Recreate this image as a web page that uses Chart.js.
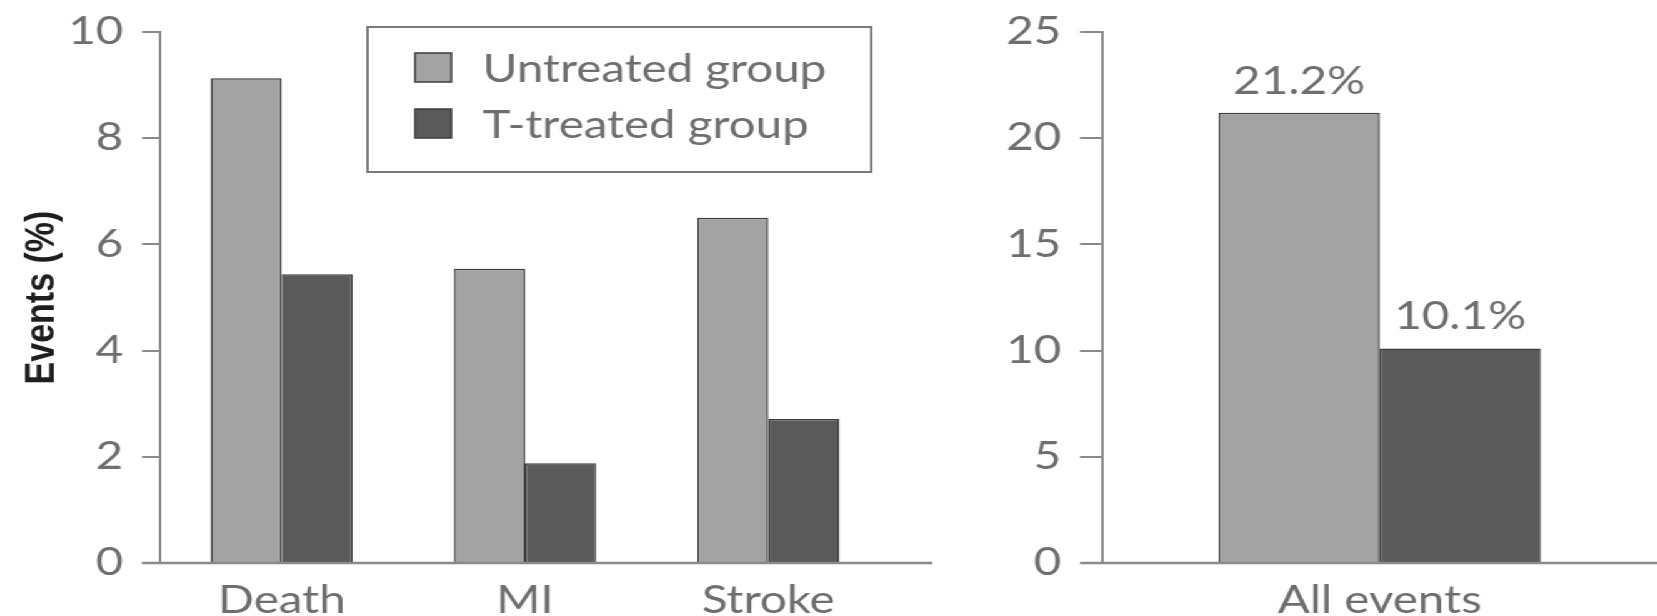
<!DOCTYPE html>
<html>
<head>
<meta charset="utf-8">
<script src="https://cdn.jsdelivr.net/npm/chart.js@4.4.0/dist/chart.umd.min.js"></script>
<style>
html, body { margin: 0; padding: 0; background: #fff; overflow: hidden; }
/* the source figure is stretched sideways, so the whole drawing is too */
#wrap { width: 1326px; height: 616px; display: flex; transform: scaleX(1.25); transform-origin: 0 0; }
canvas { display: block; }
</style>
</head>
<body>
<div id="wrap">
  <canvas id="chart1" width="760" height="616"></canvas>
  <canvas id="chart2" width="566" height="616"></canvas>
</div>
<script>
// values (events, %)
const categories = ['Death', 'MI', 'Stroke'];
const untreated = [9.13, 5.54, 6.5];
const treated = [5.44, 1.88, 2.71];

const allCategories = ['All events'];
const allUntreated = [21.2];
const allTreated = [10.1];

const seriesNames = ['Untreated group', 'T-treated group'];
const leftTicks = [0, 2, 4, 6, 8, 10];
const rightTicks = [0, 5, 10, 15, 20, 25];

const lightGrey = '#a3a3a3';
const darkGrey = '#5a5a5a';
const edge = '#3c3c3c';
const axisGrey = '#8a8a8a';
const textGrey = '#6e6e6e';
const labelFont = { family: 'Lato', size: 38, weight: 'normal' };

document.addEventListener("DOMContentLoaded", function() {

    // zero line that runs a bit past the plot, like in the figure
    const baseline = {
        id: 'baseline',
        afterDatasetsDraw(chart, args, opts) {
            const ctx = chart.ctx;
            const a = chart.chartArea;
            const y = chart.scales.y.getPixelForValue(0);
            const right = opts.toEdge ? chart.width : a.right + opts.after;
            ctx.save();
            ctx.strokeStyle = axisGrey;
            ctx.lineWidth = 2.5;
            ctx.beginPath();
            ctx.moveTo(a.left - opts.before, y);
            ctx.lineTo(right, y);
            ctx.stroke();
            ctx.restore();
        }
    };

    // boxed legend sitting inside the plot
    const legendBox = {
        id: 'legendBox',
        afterDraw(chart) {
            const ctx = chart.ctx;
            const x0 = chart.chartArea.left + 166;
            const y0 = 27;
            ctx.save();
            ctx.strokeStyle = '#7a7a7a';
            ctx.lineWidth = 2;
            ctx.strokeRect(x0, y0, 403, 145);
            chart.data.datasets.forEach(function(ds, i) {
                const bottom = 82 + i * 56;
                ctx.fillStyle = ds.backgroundColor;
                ctx.fillRect(x0 + 38, bottom - 29, 29, 29);
                ctx.strokeStyle = edge;
                ctx.lineWidth = 1.5;
                ctx.strokeRect(x0 + 38, bottom - 29, 29, 29);
                ctx.fillStyle = textGrey;
                ctx.font = 'normal 38px Lato';
                ctx.textBaseline = 'alphabetic';
                ctx.textAlign = 'left';
                ctx.fillText(ds.label, x0 + 92, bottom);
            });
            ctx.restore();
        }
    };

    // percent labels over the bars
    const barLabels = {
        id: 'barLabels',
        afterDatasetsDraw(chart) {
            const ctx = chart.ctx;
            ctx.save();
            ctx.fillStyle = textGrey;
            ctx.font = 'normal 38px Lato';
            ctx.textAlign = 'center';
            ctx.textBaseline = 'alphabetic';
            chart.data.datasets.forEach(function(ds, i) {
                chart.getDatasetMeta(i).data.forEach(function(bar, j) {
                    ctx.fillText(ds.data[j].toFixed(1) + '%', bar.x, bar.y - 19);
                });
            });
            ctx.restore();
        }
    };

    function yAxis(max, ticks, width, tickLen, title) {
        return {
            min: 0,
            max: max,
            afterBuildTicks: function(s) { s.ticks = ticks.map(v => ({ value: v })); },
            afterFit: function(s) {
                s.width = width;
                // let the layout padding alone decide where the plot starts
                s.paddingTop = 0;
                s.paddingBottom = 0;
            },
            border: { display: true, color: axisGrey, width: 2 },
            grid: { drawOnChartArea: false, drawTicks: true, tickLength: tickLen, color: axisGrey, lineWidth: 2 },
            ticks: { color: textGrey, font: labelFont, padding: 15 },
            title: title
        };
    }

    const xAxis = {
        afterFit: function(s) { s.height = 53; },
        border: { display: false },
        grid: { display: false, drawTicks: false },
        ticks: { color: textGrey, font: labelFont, padding: 15, maxRotation: 0, autoSkip: false }
    };

    const ctx1 = document.getElementById('chart1').getContext('2d');
    new Chart(ctx1, {
        type: 'bar',
        data: {
            labels: categories,
            datasets: [{
                label: seriesNames[0],
                data: untreated,
                backgroundColor: lightGrey,
                borderColor: edge,
                borderWidth: 1.5
            }, {
                label: seriesNames[1],
                data: treated,
                backgroundColor: darkGrey,
                borderColor: edge,
                borderWidth: 1.5
            }]
        },
        options: {
            responsive: false,
            animation: false,
            devicePixelRatio: 1,
            categoryPercentage: 0.584,
            barPercentage: 1,
            layout: { padding: { top: 32, right: 48, bottom: 0, left: 0 } },
            plugins: {
                legend: { display: false },
                tooltip: { enabled: false },
                baseline: { before: 14.4, after: 34 }
            },
            scales: {
                x: xAxis,
                y: yAxis(10, leftTicks, 128, 14.4, {
                    display: true,
                    text: 'Events (%)',
                    color: '#1e1e1e',
                    font: { family: 'Liberation Sans', size: 34, weight: 'bold' },
                    padding: { top: 13, bottom: 0 }
                })
            }
        },
        plugins: [baseline, legendBox]
    });

    const ctx2 = document.getElementById('chart2').getContext('2d');
    new Chart(ctx2, {
        type: 'bar',
        data: {
            labels: allCategories,
            datasets: [{
                label: seriesNames[0],
                data: allUntreated,
                backgroundColor: lightGrey,
                borderColor: edge,
                borderWidth: 1.5
            }, {
                label: seriesNames[1],
                data: allTreated,
                backgroundColor: darkGrey,
                borderColor: edge,
                borderWidth: 1.5
            }]
        },
        options: {
            responsive: false,
            animation: false,
            devicePixelRatio: 1,
            categoryPercentage: 0.58,
            barPercentage: 1,
            layout: { padding: { top: 32, right: 0, bottom: 0, left: 0 } },
            plugins: {
                legend: { display: false },
                tooltip: { enabled: false },
                baseline: { before: 17.6, toEdge: true }
            },
            scales: {
                x: xAxis,
                y: yAxis(25, rightTicks, 121.6, 17.6, { display: false })
            }
        },
        plugins: [baseline, barLabels]
    });
});
</script>
</body>
</html>
